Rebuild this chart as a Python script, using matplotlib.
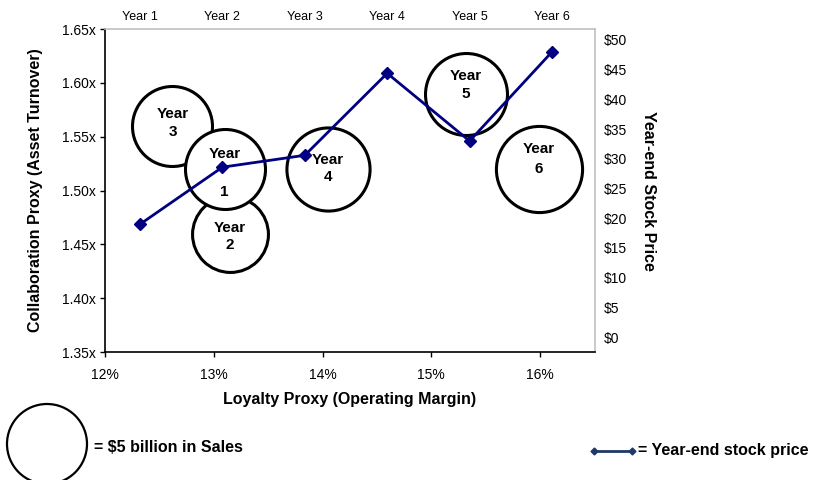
import numpy as np
import matplotlib
matplotlib.use('Agg')
import matplotlib.pyplot as plt
from matplotlib.patches import Ellipse
from matplotlib.lines import Line2D

plt.rcParams['font.family'] = ['Liberation Sans', 'DejaVu Sans']

# ---- data ----
years = ['Year 1', 'Year 2', 'Year 3', 'Year 4', 'Year 5', 'Year 6']
year_numbers = ['1', '2', '3', '4', '5', '6']
op_margin = [13.10, 13.15, 12.62, 14.05, 15.32, 15.99]       # %
asset_turnover = [1.52, 1.46, 1.56, 1.52, 1.59, 1.52]        # x
sales = [5.0, 4.5, 5.0, 5.4, 5.25, 5.8]                      # $ billion
stock_price = [19.0, 28.6, 30.6, 44.4, 33.0, 48.0]           # $
x_ticks = [12, 13, 14, 15, 16]
y_ticks = [1.35, 1.40, 1.45, 1.50, 1.55, 1.60, 1.65]
price_ticks = [0, 5, 10, 15, 20, 25, 30, 35, 40, 45, 50]

# ---- style ----
W, H, DPI = 813, 480, 100
PX2PT = 72 / DPI
REF_DIAM_PX = 80          # diameter of a $5bn bubble
REF_SALES = 5.0
word_dy_px = [15, 6, 12, 9, 18, 20]       # "Year" text offset above bubble centre
num_dy_px = [-23, -11, -6, -8, 0, 0]      # number text offset
tick_fs = 10
bold_fs = 11.5

fig = plt.figure(figsize=(W / DPI, H / DPI), dpi=DPI)
rect = [105 / W, 1 - 352 / H, (594.5 - 105) / W, (352 - 29) / H]
ax = fig.add_axes(rect)
ax.set_xlim(12, 16.5)
ax.set_ylim(1.35, 1.65)

sizes = [(REF_DIAM_PX * np.sqrt(s / REF_SALES) * PX2PT) ** 2 for s in sales]
for i in reversed(range(len(years))):
    ax.scatter([op_margin[i]], [asset_turnover[i]], s=sizes[i], facecolors='white',
               edgecolors='black', linewidths=2.2, zorder=2)
    ax.annotate('Year', (op_margin[i], asset_turnover[i]), xytext=(0, word_dy_px[i] * PX2PT),
                textcoords='offset points', ha='center', va='center', fontsize=11,
                fontweight='bold', zorder=3)
    ax.annotate(year_numbers[i], (op_margin[i], asset_turnover[i]), xytext=(0, num_dy_px[i] * PX2PT),
                textcoords='offset points', ha='center', va='center', fontsize=11,
                fontweight='bold', zorder=3)

ax.set_xticks(x_ticks, [f'{v}%' for v in x_ticks])
ax.set_yticks(y_ticks, [f'{v:.2f}x' for v in y_ticks])
ax.tick_params(axis='both', labelsize=tick_fs, length=3.6, width=1)
ax.tick_params(axis='x', pad=8)
ax.tick_params(axis='y', pad=3)
for side in ['left', 'bottom']:
    ax.spines[side].set_color('black')
    ax.spines[side].set_linewidth(1.2)
for side in ['top', 'right']:
    ax.spines[side].set_color('#c0c0c0')
    ax.spines[side].set_linewidth(1.2)
ax.set_xlabel('Loyalty Proxy (Operating Margin)', fontsize=bold_fs, fontweight='bold', labelpad=7)
ax.set_ylabel('Collaboration Proxy (Asset Turnover)', fontsize=bold_fs, fontweight='bold', labelpad=14)

# ---- stock price line (top / right axes) ----
ax2 = fig.add_axes(rect, label='price', frameon=False)
ax2.set_xlim(0.575, 6.516)
ax2.set_ylim(-2.5, 51.85)
xs = np.arange(1, len(years) + 1)
ax2.plot(xs, stock_price, color='#000080', lw=2, marker='D', ms=6.5, zorder=5)
ax2.xaxis.tick_top()
ax2.set_xticks(xs, years)
ax2.yaxis.tick_right()
ax2.set_yticks(price_ticks, [f'${v}' for v in price_ticks])
ax2.tick_params(axis='both', length=0, labelsize=tick_fs)
ax2.tick_params(axis='x', pad=4, labelsize=9)
ax2.tick_params(axis='y', pad=7)
ax2.yaxis.set_label_position('right')
ax2.set_ylabel('Year-end Stock Price', rotation=-90, va='bottom', fontsize=bold_fs,
               fontweight='bold', labelpad=9.5)

# ---- custom legend ----
fig.add_artist(Ellipse((47 / W, 1 - 444 / H), REF_DIAM_PX / W, REF_DIAM_PX / H,
                       transform=fig.transFigure, fill=False, lw=1.6, edgecolor='black'))
fig.text(94 / W, 1 - 447 / H, '= $5 billion in Sales', fontsize=bold_fs, fontweight='bold',
         ha='left', va='center')
fig.add_artist(Line2D([594 / W, 632 / W], [1 - 451 / H, 1 - 451 / H], transform=fig.transFigure,
                      color='#1f3a68', lw=2, marker='D', ms=3.5))
fig.text(638 / W, 1 - 451 / H, '= Year-end stock price', fontsize=bold_fs, fontweight='bold',
         ha='left', va='center')

fig.savefig('out.png', dpi=DPI)
